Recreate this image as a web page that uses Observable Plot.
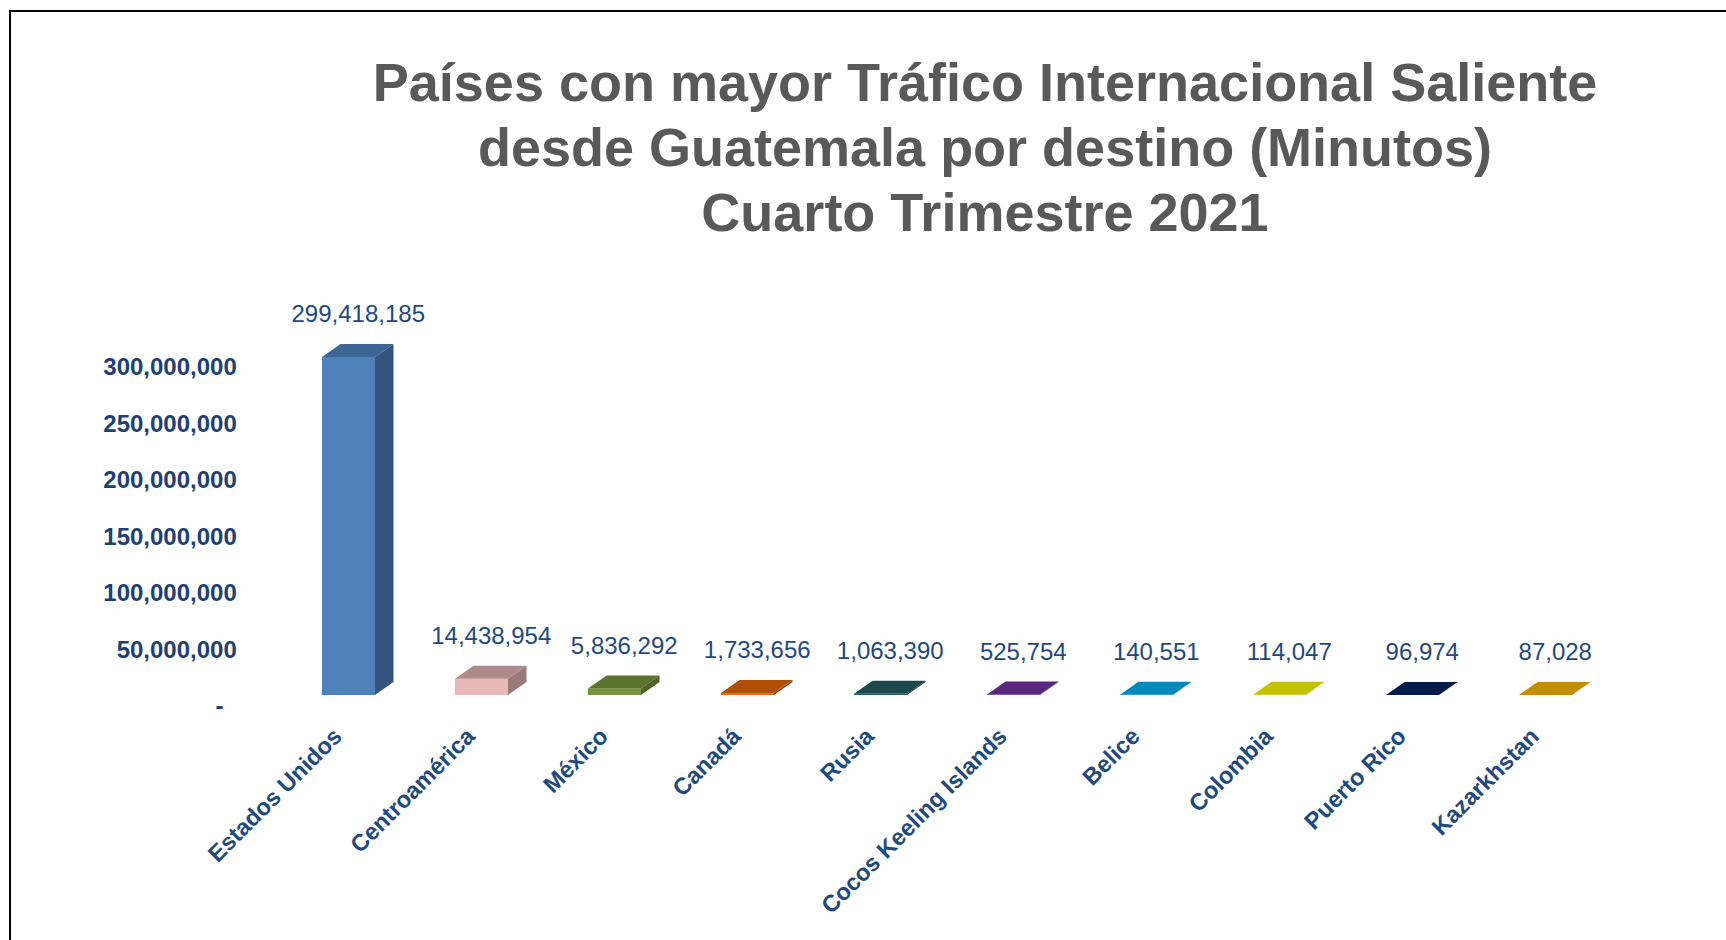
<!DOCTYPE html>
<html>
<head>
<meta charset="utf-8">
<script src="https://cdn.jsdelivr.net/npm/d3@7"></script>
<script src="https://cdn.jsdelivr.net/npm/@observablehq/plot@0.6"></script>
<style>
  html, body { margin: 0; padding: 0; background: #ffffff; overflow: hidden; }
  body { width: 1726px; height: 940px; position: relative; font-family: "Liberation Sans", Arial, sans-serif; }
  #frame { position: absolute; left: 9px; top: 10px; width: 3000px; height: 3000px;
           border-left: 2px solid #000; border-top: 2px solid #000; box-sizing: border-box; }
  #title { position: absolute; top: 50px; left: 244px; right: 0; text-align: center;
           font-family: "Liberation Sans", Arial, sans-serif; font-weight: bold; font-size: 54px;
           line-height: 65px; color: #595959; white-space: nowrap; }
  #chart { position: absolute; left: 0; top: 250px; }
  .side-face rect { transform-box: fill-box; transform-origin: 0 100%; transform: skewY(-35deg); }
  .top-face rect { transform-box: fill-box; transform-origin: 0 100%; transform: skewX(-55deg); }
  g[aria-label="y-axis tick label"] text { font-weight: bold; }
</style>
</head>
<body>
<div id="frame"></div>
<div id="title">Países con mayor Tráfico Internacional Saliente<br>desde Guatemala por destino (Minutos)<br>Cuarto Trimestre 2021</div>
<div id="chart"></div>
<script>
// ---- data ----
const countries = ["Estados Unidos", "Centroamérica", "México", "Canadá", "Rusia",
                   "Cocos Keeling Islands", "Belice", "Colombia", "Puerto Rico", "Kazarkhstan"];
const minutes = [299418185, 14438954, 5836292, 1733656, 1063390, 525754, 140551, 114047, 96974, 87028];
const yTicks = [0, 50000000, 100000000, 150000000, 200000000, 250000000, 300000000];

// ---- styles ----
const frontColors = ["#4F81BD", "#E6B9B8", "#77933C", "#E46C0A", "#245C64", "#7030A0", "#00A6DC", "#DEDB00", "#002266", "#E0A400"];
const topColors   = ["#3D6596", "#AE8B8A", "#5B7530", "#AE4F04", "#1B474D", "#59287E", "#0088B8", "#C4C200", "#001A4A", "#C28E00"];
const sideColors  = ["#34557F", "#9A7978", "#4F6228", "#8F4203", "#163C40", "#4A216A", "#00729B", "#A8A600", "#00143A", "#A67800"];

const data = countries.map((c, i) => ({
  country: c, value: minutes[i],
  front: frontColors[i], top: topColors[i], side: sideColors[i]
}));

// ---- layout ----
const W = 1726, H = 690;
const mL = 253.25, mR = 84.75, pInner = 0.603, pOuter = 0.5;
const step = (W - mL - mR) / (countries.length - pInner + 2 * pOuter);
const bw = step * (1 - pInner);
const depthX = 18.5, depthY = 13;

const fmt = d3.format(",");

const plot = Plot.plot({
  width: W,
  height: H,
  marginLeft: mL,
  marginRight: mR,
  marginTop: 106.3,
  marginBottom: 245,
  style: { fontFamily: "Liberation Sans, Arial, sans-serif", background: "transparent", overflow: "visible" },
  x: { domain: countries, paddingInner: pInner, paddingOuter: pOuter, align: 0.5, axis: null },
  y: { domain: [0, 300000000], axis: null },
  marks: [
    Plot.axisY({
      ticks: yTicks,
      tickFormat: d => d === 0 ? "-\u00a0\u00a0" : fmt(d),
      tickSize: 0,
      tickPadding: 17,
      dy: 11,
      fontSize: 24,
      fontWeight: "bold",
      color: "#1F3F72",
      label: null
    }),
    // side face
    Plot.barY(data, {
      x: "country", y1: 0, y2: "value", fill: "side",
      insetLeft: bw, insetRight: -depthX
    }),
    // front face
    Plot.barY(data, {
      x: "country", y1: 0, y2: "value", fill: "front"
    }),
    // top face
    Plot.barY(data, {
      x: "country", y1: "value", y2: "value", fill: "top",
      insetTop: -depthY
    }),
    // value labels
    Plot.text(data, {
      x: "country", y: "value", text: d => fmt(d.value),
      dx: depthX / 2, dy: -43, fontSize: 24, fill: "#1F497D"
    }),
    // category labels
    Plot.text(data, {
      x: "country", y: 0, text: "country",
      rotate: -45, textAnchor: "end", dx: -11, dy: 37,
      fontSize: 23.5, fontWeight: "bold", fill: "#1F4A7E"
    })
  ]
});

// give the three bar layers (side, front, top, in mark order) class names for the 3-D skew
const barGroups = plot.querySelectorAll('g[aria-label="bar"]');
if (barGroups.length >= 3) {
  barGroups[0].classList.add("side-face");
  barGroups[1].classList.add("front-face");
  barGroups[2].classList.add("top-face");
}

document.getElementById("chart").appendChild(plot);
</script>
</body>
</html>
